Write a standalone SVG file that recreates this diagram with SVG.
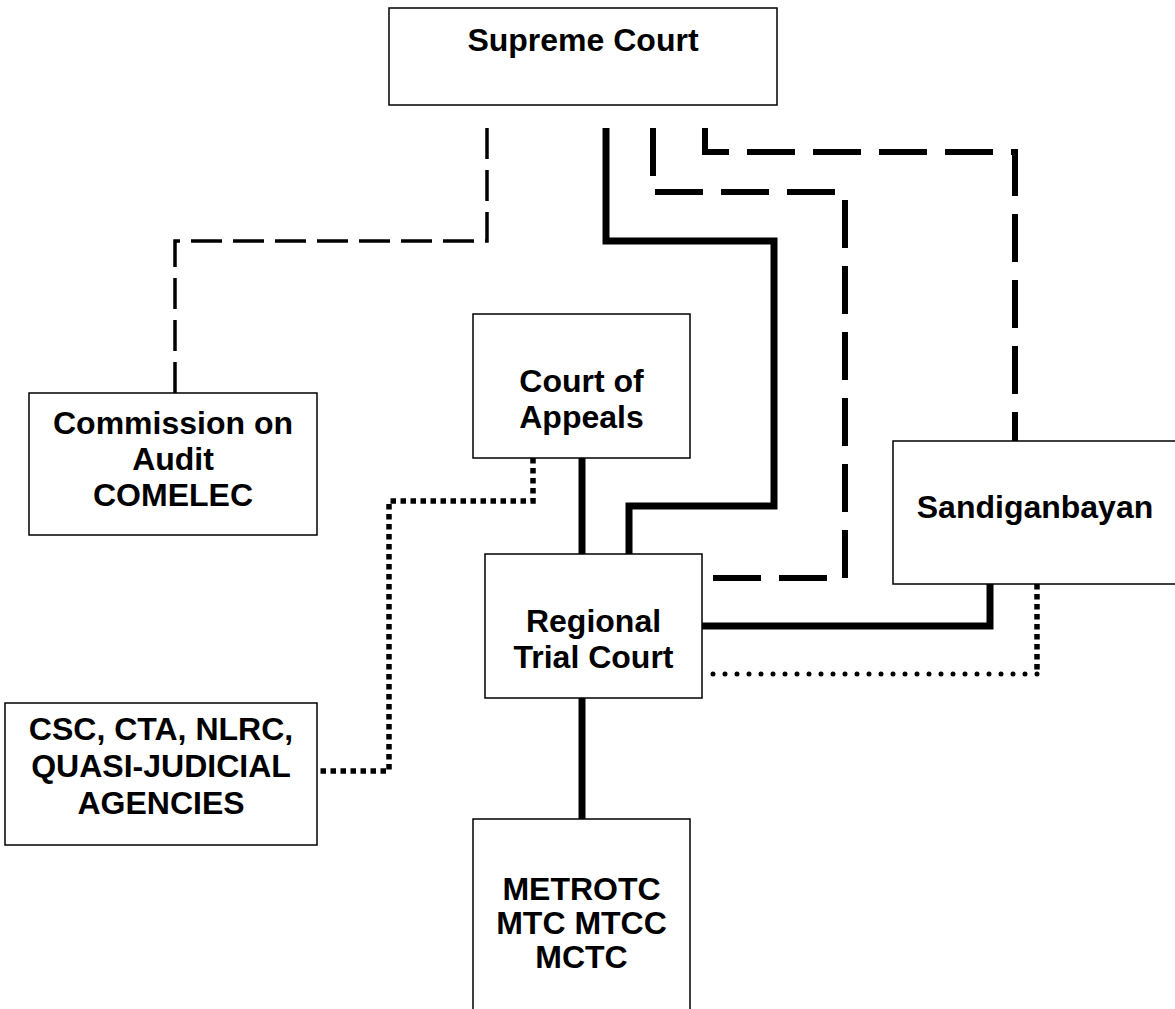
<svg xmlns="http://www.w3.org/2000/svg" width="1175" height="1009" viewBox="0 0 1175 1009">
<style>
.box{fill:#fff;stroke:#000;stroke-width:1.5}
.t{font-family:"Liberation Sans",Arial,sans-serif;font-weight:bold;font-size:32px;text-anchor:middle;fill:#000}
.solid{fill:none;stroke:#000;stroke-width:7}
.dash{fill:none;stroke:#000;stroke-width:6;stroke-dasharray:48 18}
.thin{fill:none;stroke:#000;stroke-width:3.5;stroke-dasharray:31 11}
.dot{fill:none;stroke:#000;stroke-width:5.5;stroke-dasharray:5.5 4.5}
.rdot{fill:none;stroke:#000;stroke-width:5;stroke-linecap:round;stroke-dasharray:0 12}
</style>
<rect width="1175" height="1009" fill="#fff"/>
<g id="connectors">
<path class="thin" d="M487,128 V241 H175 V393"/>
<path class="solid" d="M606,128 V241 H774 V506 H629 V554"/>
<path class="dash" d="M653,128 V192 H845 V578 H702"/>
<path class="dash" d="M705,128 V152 H1015 V441"/>
<path class="solid" d="M582,458 V554"/>
<path class="solid" d="M582,698 V819"/>
<path class="solid" d="M990,584 V626 H702"/>
<path class="dot" d="M533,458 V501 H389 V771 H317"/>
<path class="dot" d="M1037,584 V674"/>
<path class="rdot" d="M1037,674 H702"/>
</g>
<g id="supreme-court">
<rect class="box" x="389" y="8" width="388" height="97"/>
<text class="t" x="583" y="51">Supreme Court</text>
</g>
<g id="commission">
<rect class="box" x="29" y="393" width="288" height="142"/>
<text class="t" x="173" y="434">Commission on</text>
<text class="t" x="173" y="470">Audit</text>
<text class="t" x="173" y="506">COMELEC</text>
</g>
<g id="court-of-appeals">
<rect class="box" x="473" y="314" width="217" height="144"/>
<text class="t" x="581.5" y="392">Court of</text>
<text class="t" x="581.5" y="428">Appeals</text>
</g>
<g id="sandiganbayan">
<rect class="box" x="893" y="441" width="290" height="143"/>
<text class="t" x="1035" y="518">Sandiganbayan</text>
</g>
<g id="regional-trial-court">
<rect class="box" x="485" y="554" width="217" height="144"/>
<text class="t" x="593.5" y="632">Regional</text>
<text class="t" x="593.5" y="668">Trial Court</text>
</g>
<g id="csc">
<rect class="box" x="5" y="703" width="312" height="142"/>
<text class="t" x="161" y="740">CSC, CTA, NLRC,</text>
<text class="t" x="161" y="777">QUASI-JUDICIAL</text>
<text class="t" x="161" y="814">AGENCIES</text>
</g>
<g id="mtc">
<rect class="box" x="473" y="819" width="217" height="200"/>
<text class="t" x="581.5" y="900">METROTC</text>
<text class="t" x="581.5" y="934">MTC MTCC</text>
<text class="t" x="581.5" y="968">MCTC</text>
</g>
</svg>
